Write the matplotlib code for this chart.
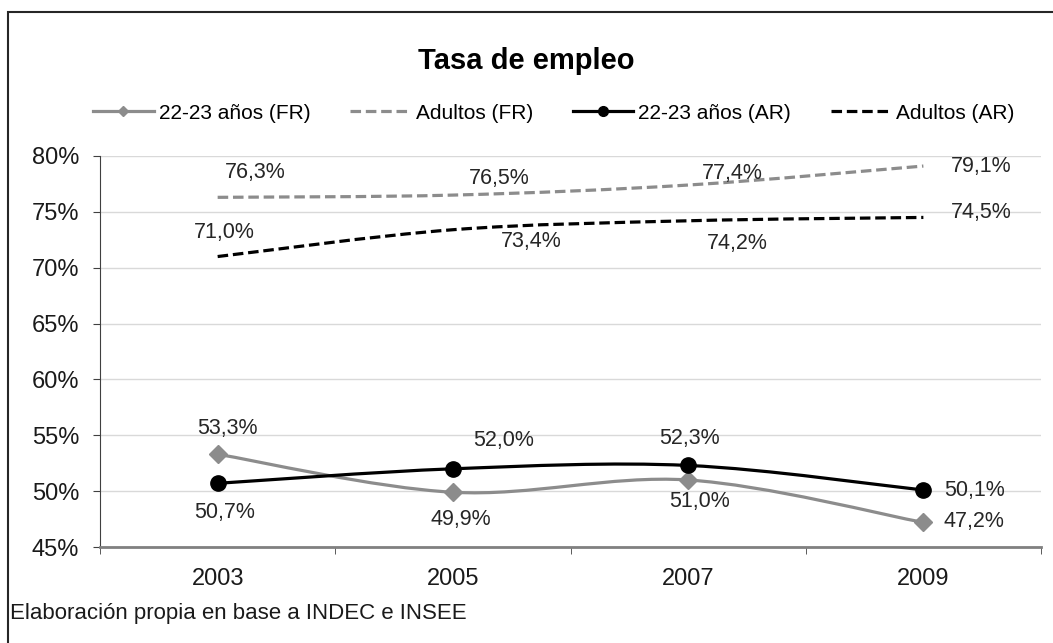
import matplotlib
matplotlib.use('Agg')
import matplotlib.pyplot as plt
from matplotlib.path import Path
from matplotlib.patches import PathPatch, Rectangle
from matplotlib.lines import Line2D
import numpy as np

plt.rcParams['font.family'] = ['Liberation Sans', 'DejaVu Sans']

# Datos (tasa de empleo, %)
anios = ['2003', '2005', '2007', '2009']
jov_fr = [53.3, 49.9, 51.0, 47.2]
adu_fr = [76.3, 76.5, 77.4, 79.1]
jov_ar = [50.7, 52.0, 52.3, 50.1]
adu_ar = [71.0, 73.4, 74.2, 74.5]
yticks = [45, 50, 55, 60, 65, 70, 75, 80]

# desplazamiento de cada etiqueta respecto al punto (px)
off_jov_fr = [(10, 26), (8, -27), (11, -22), (51, 1)]
off_adu_fr = [(38, 25), (46, 17), (44, 12), (58, 0)]
off_jov_ar = [(7, -29), (51, 28), (1, 27), (51, 0)]
off_adu_ar = [(7, 24), (78, -12), (49, -23), (58, 5)]

GRIS = '#8c8c8c'
NEGRO = '#000000'


def suave(ax, xs, ys, **kw):
    """Linea suavizada tipo Excel (Catmull-Rom con curvas bezier)."""
    pts = np.column_stack([xs, ys]).astype(float)
    ext = np.vstack([pts[0], pts, pts[-1]])
    verts = [pts[0]]
    codes = [Path.MOVETO]
    for i in range(len(pts) - 1):
        p0, p1, p2, p3 = ext[i], ext[i + 1], ext[i + 2], ext[i + 3]
        verts += [p1 + (p2 - p0) / 6, p2 - (p3 - p1) / 6, p2]
        codes += [Path.CURVE4] * 3
    ax.add_patch(PathPatch(Path(verts, codes), fill=False, **kw))


def etiquetas(ax, xs, ys, offs):
    for x, y, (dx, dy) in zip(xs, ys, offs):
        txt = f'{y:.1f}%'.replace('.', ',')
        ax.annotate(txt, (x, y), xytext=(dx, dy), textcoords='offset pixels',
                    ha='center', va='center', fontsize=15.5, color='#262626')


fig = plt.figure(figsize=(10.53, 6.43), dpi=100)
ax = fig.add_axes([0.095, 0.1493, 0.8936, 0.6081])

x = np.arange(len(anios))

suave(ax, x, jov_fr, edgecolor=GRIS, lw=2.3, zorder=3)
ax.plot(x, jov_fr, 'D', color=GRIS, ms=9, zorder=4)
suave(ax, x, adu_fr, edgecolor=GRIS, lw=2.3, linestyle=(0, (3.3, 1.5)), zorder=3)
suave(ax, x, jov_ar, edgecolor=NEGRO, lw=2.3, zorder=5)
ax.plot(x, jov_ar, 'o', color=NEGRO, ms=11, zorder=6)
suave(ax, x, adu_ar, edgecolor=NEGRO, lw=2.3, linestyle=(0, (3.3, 1.5)), zorder=5)

etiquetas(ax, x, jov_fr, off_jov_fr)
etiquetas(ax, x, adu_fr, off_adu_fr)
etiquetas(ax, x, jov_ar, off_jov_ar)
etiquetas(ax, x, adu_ar, off_adu_ar)

ax.set_xlim(-0.5, len(anios) - 0.5)
ax.set_ylim(45, 80)
ax.set_yticks(yticks)
ax.set_yticklabels([f'{v}%' for v in yticks])
ax.set_xticks(x)
ax.set_xticklabels(anios)
ax.set_xticks(np.arange(-0.5, len(anios)), minor=True)
ax.tick_params(axis='x', which='major', length=0, pad=15, labelsize=17, labelcolor='#1a1a1a')
ax.tick_params(axis='x', which='minor', length=5, direction='out', color='#404040')
ax.tick_params(axis='y', length=5, direction='out', pad=10, labelsize=17,
               color='#404040', labelcolor='#1a1a1a')
ax.grid(axis='y', color='#d9d9d9', lw=1)
ax.set_axisbelow(True)
for s in ['top', 'right']:
    ax.spines[s].set_visible(False)
ax.spines['left'].set_color('#404040')
ax.spines['bottom'].set_color('#808080')
ax.spines['bottom'].set_linewidth(2)

# leyenda
handles = [
    Line2D([], [], color=GRIS, lw=2.3, marker='D', ms=5),
    Line2D([], [], color=GRIS, lw=2.3, linestyle=(0, (3.3, 1.5))),
    Line2D([], [], color=NEGRO, lw=2.3, marker='o', ms=7),
    Line2D([], [], color=NEGRO, lw=2.3, linestyle=(0, (3.3, 1.5))),
]
nombres = ['22-23 años (FR)', 'Adultos (FR)', '22-23 años (AR)', 'Adultos (AR)']
fig.legend(handles, nombres, loc='center', bbox_to_anchor=(0.526, 0.824), ncol=4,
           frameon=False, fontsize=15, handlelength=2.9, handletextpad=0.25,
           columnspacing=1.9)

fig.text(0.5, 0.905, 'Tasa de empleo', ha='center', va='center',
         fontsize=21, fontweight='bold')
fig.text(0.0095, 0.046, 'Elaboración propia en base a INDEC e INSEE',
         ha='left', va='center', fontsize=16, color='#1a1a1a')

# marco del grafico (solo se ven el borde izquierdo y el superior)
fig.patches.append(Rectangle((0.0076, -0.05), 1.05, 1.031, transform=fig.transFigure,
                             fill=False, edgecolor='#262626', lw=1.5))

fig.savefig('out.png', dpi=100)
